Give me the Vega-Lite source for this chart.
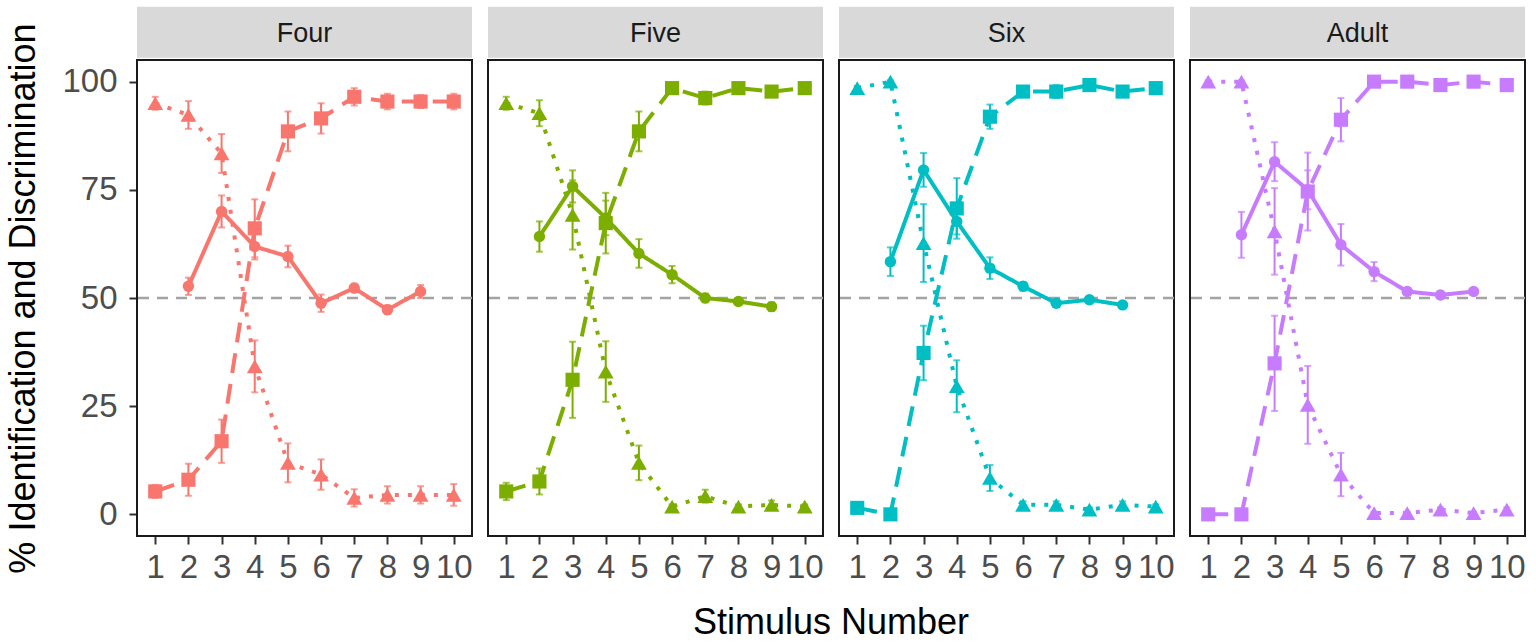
{
  "$schema": "https://vega.github.io/schema/vega-lite/v6.json",
  "data": {
    "values": [
      {"group": "Four", "task": "Identification A", "stim": 1, "pct": 5.3, "se": 1.5},
      {"group": "Four", "task": "Identification A", "stim": 2, "pct": 8.0, "se": 3.7},
      {"group": "Four", "task": "Identification A", "stim": 3, "pct": 16.9, "se": 5},
      {"group": "Four", "task": "Identification A", "stim": 4, "pct": 66.1, "se": 6.7},
      {"group": "Four", "task": "Identification A", "stim": 5, "pct": 88.5, "se": 4.6},
      {"group": "Four", "task": "Identification A", "stim": 6, "pct": 91.5, "se": 3.5},
      {"group": "Four", "task": "Identification A", "stim": 7, "pct": 96.5, "se": 2},
      {"group": "Four", "task": "Identification A", "stim": 8, "pct": 95.4, "se": 1.8},
      {"group": "Four", "task": "Identification A", "stim": 9, "pct": 95.4, "se": 1.5},
      {"group": "Four", "task": "Identification A", "stim": 10, "pct": 95.4, "se": 1.8},
      {"group": "Four", "task": "Identification B", "stim": 1, "pct": 95.0, "se": 1.5},
      {"group": "Four", "task": "Identification B", "stim": 2, "pct": 92.3, "se": 3.2},
      {"group": "Four", "task": "Identification B", "stim": 3, "pct": 83.4, "se": 4.5},
      {"group": "Four", "task": "Identification B", "stim": 4, "pct": 34.2, "se": 6},
      {"group": "Four", "task": "Identification B", "stim": 5, "pct": 11.9, "se": 4.5},
      {"group": "Four", "task": "Identification B", "stim": 6, "pct": 9.2, "se": 3.5},
      {"group": "Four", "task": "Identification B", "stim": 7, "pct": 3.8, "se": 2},
      {"group": "Four", "task": "Identification B", "stim": 8, "pct": 4.5, "se": 2},
      {"group": "Four", "task": "Identification B", "stim": 9, "pct": 4.5, "se": 2},
      {"group": "Four", "task": "Identification B", "stim": 10, "pct": 4.5, "se": 2.5},
      {"group": "Four", "task": "Discrimination", "stim": 2, "pct": 52.7, "se": 2},
      {"group": "Four", "task": "Discrimination", "stim": 3, "pct": 70.0, "se": 3.7},
      {"group": "Four", "task": "Discrimination", "stim": 4, "pct": 61.9, "se": 3},
      {"group": "Four", "task": "Discrimination", "stim": 5, "pct": 59.6, "se": 2.5},
      {"group": "Four", "task": "Discrimination", "stim": 6, "pct": 48.8, "se": 2},
      {"group": "Four", "task": "Discrimination", "stim": 7, "pct": 52.3, "se": 1},
      {"group": "Four", "task": "Discrimination", "stim": 8, "pct": 47.3, "se": 1},
      {"group": "Four", "task": "Discrimination", "stim": 9, "pct": 51.5, "se": 1.5},

      {"group": "Five", "task": "Identification A", "stim": 1, "pct": 5.3, "se": 2},
      {"group": "Five", "task": "Identification A", "stim": 2, "pct": 7.6, "se": 3},
      {"group": "Five", "task": "Identification A", "stim": 3, "pct": 31.1, "se": 8.8},
      {"group": "Five", "task": "Identification A", "stim": 4, "pct": 67.3, "se": 7},
      {"group": "Five", "task": "Identification A", "stim": 5, "pct": 88.5, "se": 4.6},
      {"group": "Five", "task": "Identification A", "stim": 6, "pct": 98.5, "se": 0.5},
      {"group": "Five", "task": "Identification A", "stim": 7, "pct": 96.2, "se": 1.5},
      {"group": "Five", "task": "Identification A", "stim": 8, "pct": 98.5, "se": 0.5},
      {"group": "Five", "task": "Identification A", "stim": 9, "pct": 97.7, "se": 1},
      {"group": "Five", "task": "Identification A", "stim": 10, "pct": 98.5, "se": 0.5},
      {"group": "Five", "task": "Identification B", "stim": 1, "pct": 95.0, "se": 1.5},
      {"group": "Five", "task": "Identification B", "stim": 2, "pct": 92.7, "se": 3},
      {"group": "Five", "task": "Identification B", "stim": 3, "pct": 69.2, "se": 8},
      {"group": "Five", "task": "Identification B", "stim": 4, "pct": 33.0, "se": 7},
      {"group": "Five", "task": "Identification B", "stim": 5, "pct": 11.9, "se": 4},
      {"group": "Five", "task": "Identification B", "stim": 6, "pct": 1.8, "se": 0.5},
      {"group": "Five", "task": "Identification B", "stim": 7, "pct": 4.2, "se": 1.5},
      {"group": "Five", "task": "Identification B", "stim": 8, "pct": 1.8, "se": 0.5},
      {"group": "Five", "task": "Identification B", "stim": 9, "pct": 2.2, "se": 1},
      {"group": "Five", "task": "Identification B", "stim": 10, "pct": 1.8, "se": 0.5},
      {"group": "Five", "task": "Discrimination", "stim": 2, "pct": 64.2, "se": 3.5},
      {"group": "Five", "task": "Discrimination", "stim": 3, "pct": 75.8, "se": 3.7},
      {"group": "Five", "task": "Discrimination", "stim": 4, "pct": 68.5, "se": 4},
      {"group": "Five", "task": "Discrimination", "stim": 5, "pct": 60.3, "se": 3.3},
      {"group": "Five", "task": "Discrimination", "stim": 6, "pct": 55.4, "se": 2},
      {"group": "Five", "task": "Discrimination", "stim": 7, "pct": 50.0, "se": 1},
      {"group": "Five", "task": "Discrimination", "stim": 8, "pct": 49.2, "se": 0.5},
      {"group": "Five", "task": "Discrimination", "stim": 9, "pct": 48.0, "se": 1},

      {"group": "Six", "task": "Identification A", "stim": 1, "pct": 1.5, "se": 0.5},
      {"group": "Six", "task": "Identification A", "stim": 2, "pct": 0, "se": 0.3},
      {"group": "Six", "task": "Identification A", "stim": 3, "pct": 37.3, "se": 6.3},
      {"group": "Six", "task": "Identification A", "stim": 4, "pct": 70.7, "se": 7},
      {"group": "Six", "task": "Identification A", "stim": 5, "pct": 91.9, "se": 2.8},
      {"group": "Six", "task": "Identification A", "stim": 6, "pct": 97.7, "se": 1},
      {"group": "Six", "task": "Identification A", "stim": 7, "pct": 97.7, "se": 1.5},
      {"group": "Six", "task": "Identification A", "stim": 8, "pct": 99.2, "se": 0.5},
      {"group": "Six", "task": "Identification A", "stim": 9, "pct": 97.7, "se": 0.5},
      {"group": "Six", "task": "Identification A", "stim": 10, "pct": 98.5, "se": 0.5},
      {"group": "Six", "task": "Identification B", "stim": 1, "pct": 98.5, "se": 0.5},
      {"group": "Six", "task": "Identification B", "stim": 2, "pct": 100, "se": 0.3},
      {"group": "Six", "task": "Identification B", "stim": 3, "pct": 62.7, "se": 9},
      {"group": "Six", "task": "Identification B", "stim": 4, "pct": 29.6, "se": 6},
      {"group": "Six", "task": "Identification B", "stim": 5, "pct": 8.4, "se": 3},
      {"group": "Six", "task": "Identification B", "stim": 6, "pct": 2.2, "se": 0.8},
      {"group": "Six", "task": "Identification B", "stim": 7, "pct": 2.2, "se": 0.8},
      {"group": "Six", "task": "Identification B", "stim": 8, "pct": 1.1, "se": 0.5},
      {"group": "Six", "task": "Identification B", "stim": 9, "pct": 2.2, "se": 0.8},
      {"group": "Six", "task": "Identification B", "stim": 10, "pct": 1.8, "se": 0.5},
      {"group": "Six", "task": "Discrimination", "stim": 2, "pct": 58.4, "se": 3.3},
      {"group": "Six", "task": "Discrimination", "stim": 3, "pct": 79.6, "se": 3.9},
      {"group": "Six", "task": "Discrimination", "stim": 4, "pct": 67.7, "se": 3},
      {"group": "Six", "task": "Discrimination", "stim": 5, "pct": 56.9, "se": 2.5},
      {"group": "Six", "task": "Discrimination", "stim": 6, "pct": 52.7, "se": 1},
      {"group": "Six", "task": "Discrimination", "stim": 7, "pct": 48.8, "se": 0.5},
      {"group": "Six", "task": "Discrimination", "stim": 8, "pct": 49.6, "se": 0.8},
      {"group": "Six", "task": "Discrimination", "stim": 9, "pct": 48.4, "se": 0.5},

      {"group": "Adult", "task": "Identification A", "stim": 1, "pct": 0, "se": 0.3},
      {"group": "Adult", "task": "Identification A", "stim": 2, "pct": 0, "se": 0.3},
      {"group": "Adult", "task": "Identification A", "stim": 3, "pct": 34.9, "se": 11},
      {"group": "Adult", "task": "Identification A", "stim": 4, "pct": 74.6, "se": 9},
      {"group": "Adult", "task": "Identification A", "stim": 5, "pct": 91.2, "se": 5},
      {"group": "Adult", "task": "Identification A", "stim": 6, "pct": 100, "se": 0.3},
      {"group": "Adult", "task": "Identification A", "stim": 7, "pct": 100, "se": 0.3},
      {"group": "Adult", "task": "Identification A", "stim": 8, "pct": 99.2, "se": 0.5},
      {"group": "Adult", "task": "Identification A", "stim": 9, "pct": 100, "se": 0.3},
      {"group": "Adult", "task": "Identification A", "stim": 10, "pct": 99.2, "se": 0.5},
      {"group": "Adult", "task": "Identification B", "stim": 1, "pct": 100, "se": 0.3},
      {"group": "Adult", "task": "Identification B", "stim": 2, "pct": 100, "se": 0.3},
      {"group": "Adult", "task": "Identification B", "stim": 3, "pct": 65.4, "se": 10},
      {"group": "Adult", "task": "Identification B", "stim": 4, "pct": 25.3, "se": 9},
      {"group": "Adult", "task": "Identification B", "stim": 5, "pct": 9.2, "se": 5},
      {"group": "Adult", "task": "Identification B", "stim": 6, "pct": 0.3, "se": 0.3},
      {"group": "Adult", "task": "Identification B", "stim": 7, "pct": 0.3, "se": 0.3},
      {"group": "Adult", "task": "Identification B", "stim": 8, "pct": 1.1, "se": 0.5},
      {"group": "Adult", "task": "Identification B", "stim": 9, "pct": 0.3, "se": 0.3},
      {"group": "Adult", "task": "Identification B", "stim": 10, "pct": 1.1, "se": 0.5},
      {"group": "Adult", "task": "Discrimination", "stim": 2, "pct": 64.6, "se": 5.3},
      {"group": "Adult", "task": "Discrimination", "stim": 3, "pct": 81.5, "se": 4.5},
      {"group": "Adult", "task": "Discrimination", "stim": 4, "pct": 75.0, "se": 4.5},
      {"group": "Adult", "task": "Discrimination", "stim": 5, "pct": 62.3, "se": 4.8},
      {"group": "Adult", "task": "Discrimination", "stim": 6, "pct": 56.1, "se": 2.2},
      {"group": "Adult", "task": "Discrimination", "stim": 7, "pct": 51.5, "se": 0.5},
      {"group": "Adult", "task": "Discrimination", "stim": 8, "pct": 50.7, "se": 0.8},
      {"group": "Adult", "task": "Discrimination", "stim": 9, "pct": 51.5, "se": 0.5}
    ]
  },
  "bounds": "flush",
  "config": {
    "font": "Liberation Sans",
    "view": {"stroke": "#1a1a1a", "strokeWidth": 2},
    "axis": {
      "grid": false,
      "domain": false,
      "ticks": true,
      "tickColor": "#333333",
      "tickWidth": 2,
      "tickSize": 8,
      "labelColor": "#4d4d4d",
      "labelFontSize": 33,
      "labelFont": "Liberation Sans",
      "titleFont": "Liberation Sans",
      "titleFontSize": 36,
      "titleFontWeight": "normal",
      "titleColor": "#000000"
    },
    "axisX": {"labelOverlap": false, "labelBound": false, "labelFlush": false}
  },
  "facet": {
    "column": {
      "field": "group",
      "type": "nominal",
      "title": "Stimulus Number",
      "sort": ["Four", "Five", "Six", "Adult"],
      "header": {
        "labels": false,
        "titleOrient": "bottom",
        "titleFont": "Liberation Sans",
        "titleFontSize": 36,
        "titleFontWeight": "normal",
        "titleColor": "#000000",
        "titlePadding": 12
      }
    }
  },
  "spacing": 16,
  "spec": {
    "width": 335,
    "height": 476,
    "layer": [
      {
        "transform": [{"filter": "datum.stim == 1 && datum.task == 'Identification A'"}],
        "mark": {"type": "rect", "fill": "#d9d9d9", "clip": false},
        "encoding": {
          "x": {"datum": 0.45, "type": "quantitative", "title": null,
                "scale": {"domain": [0.45, 10.55], "nice": false, "zero": false},
                "axis": {"values": [1, 2, 3, 4, 5, 6, 7, 8, 9, 10], "labelPadding": 7, "labelOverlap": false}},
          "x2": {"datum": 10.55},
          "y": {"datum": 105.5, "type": "quantitative", "title": "% Identification and Discrimination",
                "scale": {"domain": [-5, 105], "nice": false, "zero": false},
                "axis": {"values": [0, 25, 50, 75, 100], "labelPadding": 12, "titlePadding": 19}},
          "y2": {"datum": 117.3}
        }
      },
      {
        "transform": [{"filter": "datum.stim == 1 && datum.task == 'Identification A'"}],
        "mark": {"type": "text", "fontSize": 27, "color": "#1a1a1a", "baseline": "middle", "align": "center", "clip": false},
        "encoding": {
          "x": {"datum": 5.5, "type": "quantitative", "title": null,
                "axis": {"values": [1, 2, 3, 4, 5, 6, 7, 8, 9, 10], "labelPadding": 7, "labelOverlap": false}},
          "y": {"datum": 111.0, "type": "quantitative", "title": "% Identification and Discrimination"},
          "text": {"field": "group", "type": "nominal"}
        }
      },
      {
        "transform": [{"filter": "datum.stim == 1 && datum.task == 'Identification A'"}],
        "mark": {"type": "rule", "color": "#a3a3a3", "strokeDash": [11, 8], "strokeWidth": 2.5},
        "encoding": {
          "y": {"datum": 50, "type": "quantitative", "title": "% Identification and Discrimination"}
        }
      },
      {
        "mark": {"type": "line", "strokeWidth": 4},
        "encoding": {
          "x": {"field": "stim", "type": "quantitative", "title": null,
                "axis": {"values": [1, 2, 3, 4, 5, 6, 7, 8, 9, 10], "labelPadding": 7, "labelOverlap": false}},
          "y": {"field": "pct", "type": "quantitative", "title": "% Identification and Discrimination",
                "axis": {"values": [0, 25, 50, 75, 100], "labelPadding": 12, "titlePadding": 19}},
          "color": {"field": "group", "type": "nominal", "legend": null,
                    "scale": {"domain": ["Four", "Five", "Six", "Adult"], "range": ["#F8766D", "#7CAE00", "#00BFC4", "#C77CFF"]}},
          "strokeDash": {"field": "task", "type": "nominal", "legend": null,
                         "scale": {"domain": ["Identification A", "Identification B", "Discrimination"], "range": [[20, 11], [4, 9], [1, 0]]}},
          "detail": {"field": "task"}
        }
      },
      {
        "mark": {"type": "errorbar", "thickness": 2, "ticks": {"size": 7, "thickness": 2}},
        "encoding": {
          "x": {"field": "stim", "type": "quantitative", "title": null,
                "axis": {"values": [1, 2, 3, 4, 5, 6, 7, 8, 9, 10], "labelPadding": 7, "labelOverlap": false}},
          "y": {"field": "pct", "type": "quantitative", "title": "% Identification and Discrimination"},
          "yError": {"field": "se"},
          "color": {"field": "group", "type": "nominal", "legend": null},
          "detail": {"field": "task"}
        }
      },
      {
        "mark": {"type": "point", "filled": true, "opacity": 1},
        "encoding": {
          "x": {"field": "stim", "type": "quantitative", "title": null,
                "axis": {"values": [1, 2, 3, 4, 5, 6, 7, 8, 9, 10], "labelPadding": 7, "labelOverlap": false}},
          "y": {"field": "pct", "type": "quantitative", "title": "% Identification and Discrimination"},
          "color": {"field": "group", "type": "nominal", "legend": null},
          "shape": {"field": "task", "type": "nominal", "legend": null,
                    "scale": {"domain": ["Identification A", "Identification B", "Discrimination"], "range": ["square", "triangle-up", "circle"]}},
          "size": {"field": "task", "type": "nominal", "legend": null,
                   "scale": {"type": "ordinal", "domain": ["Identification A", "Identification B", "Discrimination"], "range": [200, 250, 130]}}
        }
      }
    ]
  }
}
